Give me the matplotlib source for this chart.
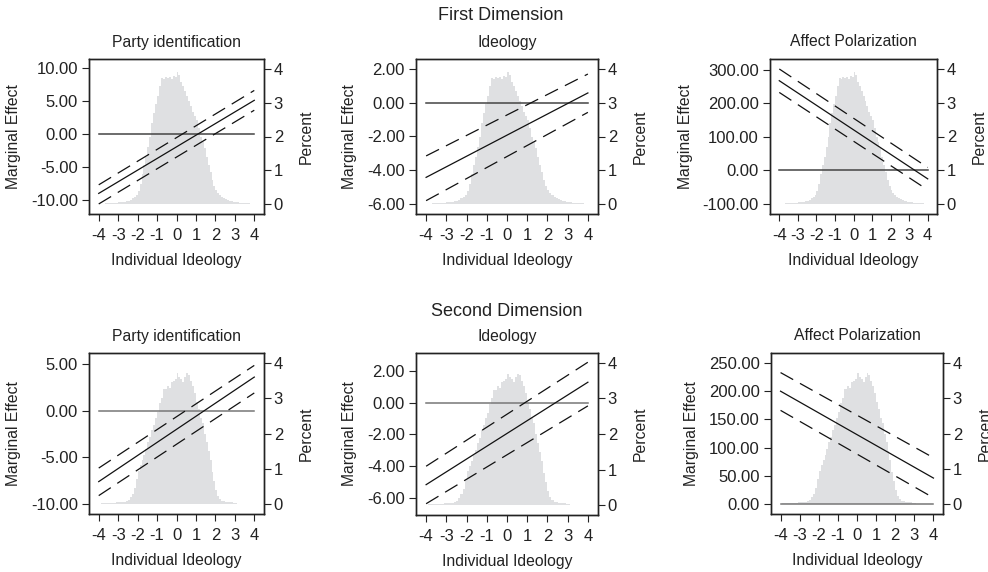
import numpy as np
import matplotlib
matplotlib.use("Agg")
import matplotlib.pyplot as plt
from matplotlib.ticker import FormatStrFormatter

plt.rcParams['font.family'] = ['Liberation Sans', 'DejaVu Sans']
plt.rcParams['axes.unicode_minus'] = False
plt.rcParams['lines.scale_dashes'] = False

# ---------------- data ----------------
x_ends = [-4, 4]

pid1_est = [-9.0, 5.1];   pid1_hi = [-7.7, 6.6];   pid1_lo = [-10.6, 3.6]
ideo1_est = [-4.42, 0.58]; ideo1_hi = [-3.15, 1.70]; ideo1_lo = [-5.80, -0.57]
aff1_est = [268, -25];    aff1_hi = [303, 9];      aff1_lo = [233, -58]

pid2_est = [-7.6, 3.6];   pid2_hi = [-6.15, 4.85]; pid2_lo = [-9.1, 1.9]
ideo2_est = [-5.16, 1.29]; ideo2_hi = [-4.0, 2.55]; ideo2_lo = [-6.36, -0.2]
aff2_est = [200, 46];     aff2_hi = [233, 82];     aff2_lo = [166, 11]

# histogram of individual ideology, percent per 0.1-wide bin, bins from -4.0 to 4.0
hist_first = [0.00, 0.02, 0.02, 0.03, 0.03, 0.03, 0.04, 0.04, 0.05, 0.05,
              0.06, 0.06, 0.07, 0.08, 0.09, 0.11, 0.14, 0.18, 0.22, 0.28,
              0.40, 0.60, 0.90, 1.15, 1.40, 1.70, 2.00, 2.40, 2.70, 2.95,
              3.20, 3.50, 3.72, 3.70, 3.74, 3.72, 3.75, 3.70, 3.78, 3.74,
              3.90, 3.80, 3.60, 3.50, 3.35, 3.20, 3.05, 2.90, 2.72, 2.60,
              2.48, 2.25, 2.00, 1.85, 1.65, 1.40, 1.15, 0.95, 0.72, 0.55,
              0.42, 0.35, 0.28, 0.22, 0.18, 0.15, 0.12, 0.10, 0.09, 0.08,
              0.07, 0.06, 0.05, 0.05, 0.04, 0.04, 0.03, 0.03, 0.02, 0.00]
hist_second = [0.00, 0.02, 0.03, 0.03, 0.03, 0.03, 0.04, 0.04, 0.04, 0.05,
               0.05, 0.05, 0.06, 0.07, 0.08, 0.12, 0.20, 0.30, 0.45, 0.70,
               0.95, 1.10, 1.25, 1.40, 1.55, 1.75, 1.90, 2.10, 2.25, 2.45,
               2.60, 2.85, 3.00, 3.25, 3.25, 3.35, 3.30, 3.45, 3.50, 3.55,
               3.70, 3.60, 3.55, 3.45, 3.60, 3.70, 3.65, 3.50, 3.35, 3.15,
               2.90, 2.70, 2.45, 2.30, 2.00, 1.75, 1.50, 1.25, 0.90, 0.65,
               0.40, 0.22, 0.14, 0.10, 0.08, 0.07, 0.06, 0.05, 0.05, 0.04,
               0.03, 0.00, 0.00, 0.00, 0.00, 0.00, 0.00, 0.00, 0.00, 0.00]
bin_edges = np.round(np.linspace(-4, 4, 81), 2)

x_ticks = [-4, -3, -2, -1, 0, 1, 2, 3, 4]
pct_ticks = [0, 1, 2, 3, 4]

titles = ["Party identification", "Ideology", "Affect Polarization"]
row_titles = ["First Dimension", "Second Dimension"]

# ---------------- layout ----------------
W, H = 988, 572
fig = plt.figure(figsize=(W / 100, H / 100), dpi=100)

def rect(x0, x1, y0, y1):
    return [x0 / W, 1 - y1 / H, (x1 - x0) / W, (y1 - y0) / H]

panels = [
    dict(r=rect(89, 264, 59, 214), est=pid1_est, hi=pid1_hi, lo=pid1_lo, hist=hist_first,
         ylim=(-12.12, 11.36), yt=[-10, -5, 0, 5, 10], title=titles[0], zc="#444444"),
    dict(r=rect(416, 598, 59, 214), est=ideo1_est, hi=ideo1_hi, lo=ideo1_lo, hist=hist_first,
         ylim=(-6.59, 2.59), yt=[-6, -4, -2, 0, 2], title=titles[1], zc="#444444"),
    dict(r=rect(770, 937, 59, 214), est=aff1_est, hi=aff1_hi, lo=aff1_lo, hist=hist_first,
         ylim=(-129.9, 332.8), yt=[-100, 0, 100, 200, 300], title=titles[2], zc="#444444"),
    dict(r=rect(89, 264, 353, 514), est=pid2_est, hi=pid2_hi, lo=pid2_lo, hist=hist_second,
         ylim=(-11.07, 6.18), yt=[-10, -5, 0, 5], title=titles[0], zc="#777777"),
    dict(r=rect(416, 598, 353, 515), est=ideo2_est, hi=ideo2_hi, lo=ideo2_lo, hist=hist_second,
         ylim=(-7.07, 3.13), yt=[-6, -4, -2, 0, 2], title=titles[1], zc="#777777"),
    dict(r=rect(771, 943, 353, 514), est=aff2_est, hi=aff2_hi, lo=aff2_lo, hist=hist_second,
         ylim=(-17.7, 267.7), yt=[0, 50, 100, 150, 200, 250], title=titles[2], zc="#777777"),
]

line_c = "#111111"
frame_c = "#222222"
for p in panels:
    ax = fig.add_axes(p["r"])
    axh = ax.twinx()
    axh.stairs(p["hist"], bin_edges, fill=True, color="#dfe0e2", lw=0)
    axh.set_ylim(-0.28, 4.28)
    axh.set_yticks(pct_ticks)
    ax.set_zorder(axh.get_zorder() + 1)
    ax.patch.set_visible(False)

    ax.plot(x_ends, [0, 0], color=p["zc"], lw=1.1)
    ax.plot(x_ends, p["est"], color=line_c, lw=0.9)
    ax.plot(x_ends, p["hi"], color=line_c, lw=0.9, dashes=(10.4, 5.6))
    ax.plot(x_ends, p["lo"], color=line_c, lw=0.9, dashes=(10.4, 5.6))

    ax.set_xlim(-4.5, 4.5)
    ax.set_xticks(x_ticks)
    ax.set_ylim(*p["ylim"])
    ax.set_yticks(p["yt"])
    ax.yaxis.set_major_formatter(FormatStrFormatter("%.2f"))

    for a in (ax, axh):
        for s in a.spines.values():
            s.set_color(frame_c)
            s.set_linewidth(1.0)
        a.tick_params(direction="out", length=5, width=0.8, labelsize=12,
                      color=frame_c, labelcolor="#222222")
    ax.tick_params(axis="y", pad=3)
    ax.tick_params(axis="x", pad=5)
    axh.tick_params(axis="y", pad=2)

    ax.set_ylabel("Marginal Effect", fontsize=11.3, labelpad=7, color="#222222")
    axh.set_ylabel("Percent", fontsize=11.3, labelpad=11, color="#222222")
    ax.set_xlabel("Individual Ideology", fontsize=11.3, labelpad=7, color="#222222")
    ax.set_title(p["title"], fontsize=11.3, pad=9, color="#222222")

fig.text(501 / W, 1 - 15 / H, row_titles[0], fontsize=13, ha="center", va="center", color="#222222")
fig.text(507 / W, 1 - 311 / H, row_titles[1], fontsize=13, ha="center", va="center", color="#222222")

fig.savefig("out.png", dpi=100)
